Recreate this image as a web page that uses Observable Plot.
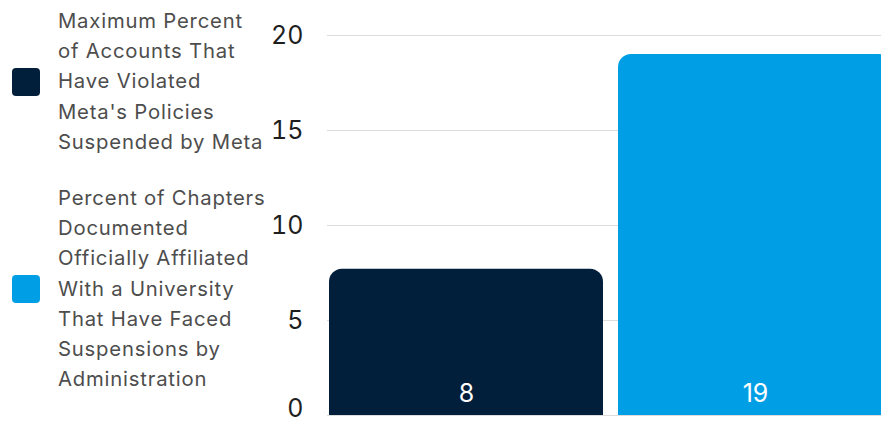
<!DOCTYPE html>
<html>
<head>
<meta charset="utf-8">
<script src="https://cdn.jsdelivr.net/npm/d3@7"></script>
<script src="https://cdn.jsdelivr.net/npm/@observablehq/plot@0.6"></script>
<style>
  html, body { margin: 0; padding: 0; background: #fff; width: 881px; height: 423px; overflow: hidden; }
  #wrap { display: flex; flex-direction: row; width: 1000px; height: 423px; font-family: Inter, "Open Sans", sans-serif; }
  #legend { position: relative; width: 270px; flex: 0 0 270px; height: 423px; }
  .item { position: absolute; left: 12px; display: flex; align-items: center; }
  .sw { width: 28px; height: 28px; border-radius: 4px; flex: 0 0 28px; }
  .lab { margin-left: 18px; font-size: 20.3px; letter-spacing: 0.8px; line-height: 30.2px; color: #4d4d4d; white-space: nowrap; }
  #chart { flex: 0 0 auto; }
</style>
</head>
<body>
<div id="wrap"><div id="legend"></div><div id="chart"></div></div>
<script>
const categories = ["Maximum Percent of Accounts That Have Violated Meta's Policies Suspended by Meta",
                    "Percent of Chapters Documented Officially Affiliated With a University That Have Faced Suspensions by Administration"];
const legendLines = [
  ["Maximum Percent", "of Accounts That", "Have Violated", "Meta's Policies", "Suspended by Meta"],
  ["Percent of Chapters", "Documented", "Officially Affiliated", "With a University", "That Have Faced", "Suspensions by", "Administration"]
];
const values = [7.7, 19];
const valueLabels = ["8", "19"];
const colors = ["#011e3a", "#009fe5"];
const yTicks = [0, 5, 10, 15, 20];

const data = categories.map((c, i) => ({cat: c, value: values[i], label: valueLabels[i]}));

// Legend
const legend = document.getElementById("legend");
const legendTops = [6, 183];
categories.forEach((c, i) => {
  const item = document.createElement("div");
  item.className = "item";
  item.style.top = legendTops[i] + "px";
  const sw = document.createElement("div");
  sw.className = "sw";
  sw.style.background = colors[i];
  const lab = document.createElement("div");
  lab.className = "lab";
  lab.innerHTML = legendLines[i].map(s => s.replace(/&/g, "&amp;")).join("<br>");
  item.appendChild(sw);
  item.appendChild(lab);
  legend.appendChild(item);
});

const plot = Plot.plot({
  width: 622,
  height: 423,
  marginLeft: 57,
  marginRight: 0,
  marginTop: 35,
  marginBottom: 8,
  style: {fontFamily: "Inter, 'Open Sans', sans-serif", overflow: "visible", background: "transparent"},
  x: {domain: categories, paddingInner: 0.052, paddingOuter: 0, insetLeft: 1, axis: null},
  y: {domain: [0, 20], ticks: yTicks, label: null},
  color: {domain: categories, range: colors},
  marks: [
    Plot.ruleY(yTicks, {stroke: "#dcdcdc", strokeWidth: 1.2}),
    Plot.axisY({ticks: yTicks.filter(d => d > 0), tickSize: 0, tickPadding: 24, fontSize: 25, fill: "#1e1e1e", label: null}),
    Plot.axisY({ticks: yTicks.filter(d => d === 0), tickSize: 0, tickPadding: 24, fontSize: 25, fill: "#1e1e1e", label: null, dy: -7}),
    Plot.barY(data, {x: "cat", y: "value", fill: "cat", ry1: 13, rx: 13}),
    Plot.text(data, {x: "cat", y: 0, text: "label", fill: "#fff", fontSize: 25, dy: -22})
  ]
});
document.getElementById("chart").appendChild(plot);
</script>
</body>
</html>
